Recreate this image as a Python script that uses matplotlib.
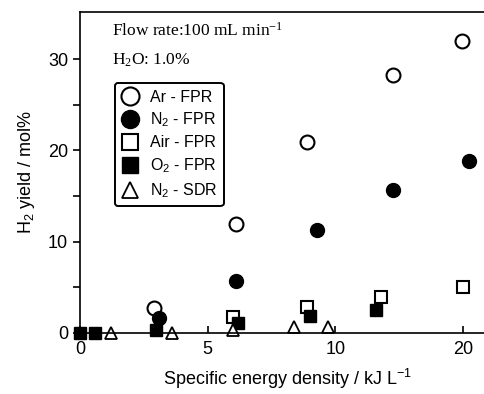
import numpy as np
import matplotlib
matplotlib.use("Agg")
import matplotlib.pyplot as plt

# datos (x: kJ/L, y: mol%)
ar_fpr_x = [2.9, 6.1, 8.9, 14.5, 19.9]
ar_fpr_y = [2.7, 11.9, 20.9, 28.3, 32.0]

n2_fpr_x = [3.1, 6.1, 9.3, 14.5, 20.5]
n2_fpr_y = [1.6, 5.7, 11.3, 15.7, 18.8]

air_fpr_x = [6.0, 8.9, 13.6, 20.0]
air_fpr_y = [1.7, 2.8, 3.9, 5.0]

o2_fpr_x = [0.0, 0.6, 3.0, 6.2, 9.0, 13.2]
o2_fpr_y = [0.0, 0.0, 0.3, 1.1, 1.9, 2.5]

n2_sdr_x = [1.2, 3.6, 6.0, 8.4, 9.7]
n2_sdr_y = [0.0, 0.0, 0.3, 0.6, 0.7]

x_ticks = [0, 5, 10, 20]
y_ticks = [0, 10, 20, 30]

plt.rcParams['font.family'] = ['Liberation Sans', 'DejaVu Sans']


# eje x comprimido por encima de 10
def adelante(x):
    x = np.asarray(x, dtype=float)
    return np.where(x <= 10, x, 10 + (x - 10) / 2)


def inversa(t):
    t = np.asarray(t, dtype=float)
    return np.where(t <= 10, t, 10 + (t - 10) * 2)


fig = plt.figure(figsize=(4.84, 3.94), dpi=100)
ax = fig.add_axes([0.165, 0.155, 0.86, 0.815])
ax.set_xscale('function', functions=(adelante, inversa))

ms = 10
ax.plot(ar_fpr_x, ar_fpr_y, 'o', mfc='white', mec='black', mew=1.5, ms=ms, clip_on=False, label='Ar - FPR')
ax.plot(n2_fpr_x, n2_fpr_y, 'o', mfc='black', mec='black', ms=ms, clip_on=False, label='N$\\mathregular{_2}$ - FPR')
ax.plot(air_fpr_x, air_fpr_y, 's', mfc='white', mec='black', mew=1.5, ms=9, clip_on=False, label='Air - FPR')
ax.plot(o2_fpr_x, o2_fpr_y, 's', mfc='black', mec='black', ms=9, clip_on=False, label='O$\\mathregular{_2}$ - FPR')
ax.plot(n2_sdr_x, n2_sdr_y, '^', mfc='white', mec='black', mew=1.3, ms=9, clip_on=False, label='N$\\mathregular{_2}$ - SDR')

ax.set_xlim(0, 22.6)
ax.set_ylim(0, 35.2)
ax.set_xticks(x_ticks)
ax.set_yticks(y_ticks)
ax.set_yticks([5, 15, 25], minor=True)
ax.tick_params(axis='x', direction='in', length=5, width=1.2, labelsize=13, pad=6)
ax.tick_params(axis='y', which='both', direction='out', length=5, width=1.2, labelsize=13)
for s in ax.spines.values():
    s.set_linewidth(1.2)

ax.set_xlabel('Specific energy density / kJ L$\\mathregular{^{-1}}$', fontsize=13, labelpad=6)
ax.set_ylabel('H$\\mathregular{_2}$ yield / mol%', fontsize=13, labelpad=8)

fig.text(0.232, 0.922, 'Flow rate:100 mL min$\\mathregular{^{-1}}$', family='Liberation Serif', fontsize=12.5, va='center')
fig.text(0.232, 0.848, 'H$\\mathregular{_2}$O: 1.0%', family='Liberation Serif', fontsize=12.5, va='center')

leg = ax.legend(loc='upper left', bbox_to_anchor=(0.238, 0.789), bbox_transform=fig.transFigure,
                borderaxespad=0, fontsize=11.5, frameon=True, fancybox=True, edgecolor='black',
                framealpha=1, handletextpad=0.75, labelspacing=0.38, borderpad=0.4,
                handlelength=1.0, markerscale=1.3)
leg.get_frame().set_linewidth(1.4)

fig.savefig('out.png', dpi=100)
